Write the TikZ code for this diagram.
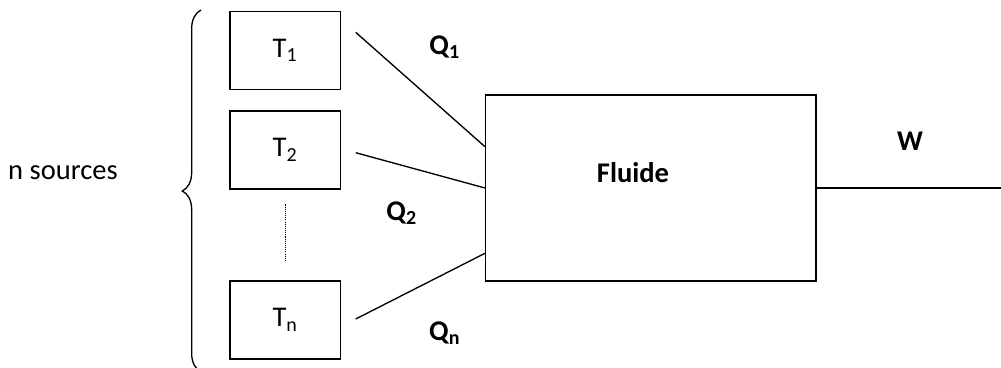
\documentclass[tikz,border=0pt]{standalone}
\usepackage{fontspec}
\setmainfont{Carlito}
\usepackage{tikz}
\usetikzlibrary{calc,positioning,decorations.pathreplacing}

\begin{document}
\begin{tikzpicture}[
    x=0.375pt, y=-0.375pt,
    every node/.style={font=\fontsize{10.7}{13}\selectfont},
    source/.style={draw, line width=0.55pt, rectangle, inner sep=0pt,
        minimum width=41.5pt, minimum height=29.1pt},
    fluid/.style={draw, line width=0.55pt, rectangle, inner sep=0pt,
        minimum width=123.9pt, minimum height=69.8pt},
    wire/.style={line width=0.5pt},
    heat/.style={font=\fontsize{10.7}{13}\selectfont\bfseries}
]
    \useasboundingbox (0,0) rectangle (1001,367);

    \node[source] (t1) at (285.4,50.5) {T\textsubscript{1}};
    \node[source] (t2) at (285.4,150) {T\textsubscript{2}};
    \node[source] (tn) at (285.4,320) {T\textsubscript{n}};

    \node[fluid] (fl) at (650.9,188) {};
    \node[heat] (flt) at (633,173) {Fluide};

    % free ends of the heat lines
    \coordinate (q1s) at (355.7,32.3);
    \coordinate (q2s) at (355.7,152.7);
    \coordinate (qns) at (355.7,319);
    \coordinate (q1e) at (fl.west |- 0,146.7);
    \coordinate (qne) at (fl.west |- 0,253.3);
    \coordinate (wend) at (1001,188);

    \draw[wire] (q1s) -- (q1e);
    \draw[wire] (q2s) -- (fl.west);
    \draw[wire] (qns) -- (qne);
    \draw[wire] (fl.east) -- (wend);

    \draw[line width=0.5pt, dash pattern=on 0.4pt off 0.4pt,
        shorten <=5.6pt, shorten >=7pt]
        (t2.south) -- (tn.north);

    \draw[line width=0.5pt, decorate, decoration={brace, amplitude=7pt}]
        (201,372) -- (201,10);

    \node (src) at (63,173) {n sources};
    \node[heat] (lq1) at (445,47) {Q\textsubscript{1}};
    \node[heat] (lq2) at (402,213) {Q\textsubscript{2}};
    \node[heat] (lqn) at (445,333) {Q\textsubscript{n}};
    \node[heat] (lw) at (910,141) {W};
\end{tikzpicture}
\end{document}
